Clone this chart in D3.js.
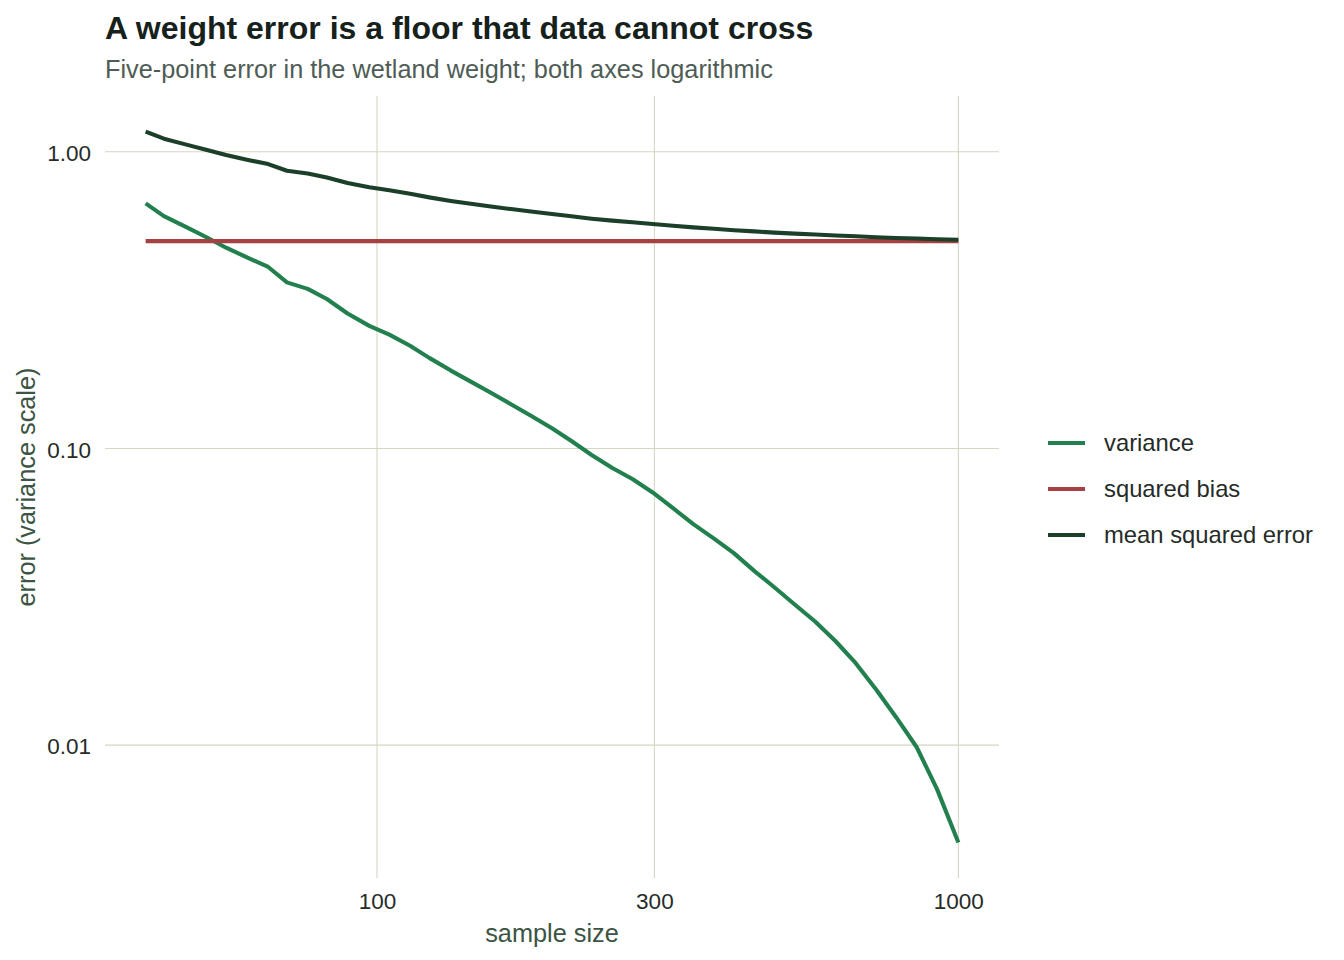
<!DOCTYPE html>
<html>
<head>
<meta charset="utf-8">
<title>A weight error is a floor that data cannot cross</title>
<script src="https://cdn.jsdelivr.net/npm/d3@7"></script>
<style>
  body { margin: 0; background: #fff; }
  svg text { font-family: "Liberation Sans", Arial, sans-serif; }
</style>
</head>
<body>
<svg id="chart" width="1344" height="960"></svg>
<script>
// sample sizes (x)
var sampleSize = [40, 43, 47, 51, 55, 60, 65, 70, 76, 82, 89, 97, 105, 114, 123, 134, 145, 157, 170, 184,
  200, 216, 234, 254, 275, 298, 323, 350, 380, 411, 446, 483, 523, 567, 615, 666, 722, 782, 848, 919, 1000]

// error components
var variance = [0.670, 0.607, 0.557, 0.514, 0.475, 0.439, 0.409, 0.363, 0.345, 0.319, 0.285, 0.259, 0.242, 0.222,
  0.202, 0.183, 0.168, 0.154, 0.141, 0.129, 0.117, 0.106, 0.0951, 0.0859, 0.0789, 0.0711, 0.0629, 0.0556,
  0.0497, 0.0444, 0.0386, 0.0340, 0.0298, 0.0261, 0.0224, 0.0189, 0.0154, 0.0124, 0.00984, 0.00711, 0.00470]

var squaredBias = [0.5, 0.5, 0.5, 0.5, 0.5, 0.5, 0.5, 0.5, 0.5, 0.5, 0.5, 0.5, 0.5, 0.5, 0.5, 0.5, 0.5, 0.5, 0.5, 0.5,
  0.5, 0.5, 0.5, 0.5, 0.5, 0.5, 0.5, 0.5, 0.5, 0.5, 0.5, 0.5, 0.5, 0.5, 0.5, 0.5, 0.5, 0.5, 0.5, 0.5, 0.5]

var meanSquaredError = [1.170, 1.107, 1.057, 1.014, 0.975, 0.939, 0.909, 0.863, 0.845, 0.819, 0.785, 0.759, 0.742,
  0.722, 0.702, 0.683, 0.668, 0.654, 0.641, 0.629, 0.617, 0.606, 0.595, 0.586, 0.579, 0.571, 0.563, 0.556,
  0.550, 0.544, 0.539, 0.534, 0.530, 0.526, 0.522, 0.519, 0.515, 0.512, 0.510, 0.507, 0.505]

var seriesNames = ['variance', 'squared bias', 'mean squared error']
var seriesColors = ['#22804f', '#a54142', '#1b3f29']
var xTicks = [100, 300, 1000]
var yTicks = [0.01, 0.1, 1]

var series = [variance, squaredBias, meanSquaredError].map(function(vals, i){
  return { name: seriesNames[i], color: seriesColors[i],
    points: vals.map(function(v, j){ return { n: sampleSize[j], v: v } }) }
})

var svg = d3.select('#chart')
var panel = { left: 105, right: 999, top: 96, bottom: 878 }

// log scales with ggplot-like 5% padding
function padLog(ext){
  var a = Math.log10(ext[0]), b = Math.log10(ext[1]), p = (b - a) * 0.05
  return [Math.pow(10, a - p), Math.pow(10, b + p)]
}
var allVals = variance.concat(squaredBias, meanSquaredError)
var x = d3.scaleLog().domain(padLog(d3.extent(sampleSize))).range([panel.left, panel.right])
var y = d3.scaleLog().domain(padLog(d3.extent(allVals))).range([panel.bottom, panel.top])

var grid = '#d6d6c2'

// gridlines
svg.append('g').selectAll('line').data(xTicks).enter().append('line')
  .attr('x1', function(d){ return x(d) }).attr('x2', function(d){ return x(d) })
  .attr('y1', panel.top).attr('y2', panel.bottom)
  .attr('stroke', grid).attr('stroke-width', 1.1)
svg.append('g').selectAll('line').data(yTicks).enter().append('line')
  .attr('x1', panel.left).attr('x2', panel.right)
  .attr('y1', function(d){ return y(d) }).attr('y2', function(d){ return y(d) })
  .attr('stroke', grid).attr('stroke-width', 1.1)

// axes (labels only)
var xAxis = svg.append('g').attr('transform', 'translate(0,' + (panel.bottom + 15) + ')')
  .call(d3.axisBottom(x).tickValues(xTicks).tickFormat(d3.format('d')).tickSize(0))
var yAxis = svg.append('g').attr('transform', 'translate(' + (panel.left - 14) + ',0)')
  .call(d3.axisLeft(y).tickValues(yTicks).tickFormat(d3.format('.2f')).tickSize(0))
;[xAxis, yAxis].forEach(function(a){
  a.select('.domain').remove()
  a.selectAll('text').attr('fill', '#262b28').attr('font-size', 22.5)
    .attr('font-family', '"Liberation Sans", Arial, sans-serif')
})
xAxis.selectAll('text').attr('y', 0).attr('dy', '0.71em')
yAxis.selectAll('text').attr('x', 0).attr('dy', '0.38em')

// lines
var line = d3.line().x(function(d){ return x(d.n) }).y(function(d){ return y(d.v) })
svg.append('g').selectAll('path').data(series).enter().append('path')
  .attr('d', function(d){ return line(d.points) })
  .attr('fill', 'none')
  .attr('stroke', function(d){ return d.color })
  .attr('stroke-width', 4.1)
  .attr('stroke-linejoin', 'round')

// titles
svg.append('text').attr('x', 105).attr('y', 39)
  .attr('font-size', 32).attr('font-weight', 'bold').attr('fill', '#17211c')
  .text('A weight error is a floor that data cannot cross')
svg.append('text').attr('x', 105).attr('y', 78)
  .attr('font-size', 25.3).attr('fill', '#4e5c55')
  .text('Five-point error in the wetland weight; both axes logarithmic')

svg.append('text').attr('x', (panel.left + panel.right) / 2).attr('y', 942)
  .attr('text-anchor', 'middle').attr('font-size', 25.3).attr('fill', '#3b5443')
  .text('sample size')
svg.append('text')
  .attr('transform', 'translate(35,' + ((panel.top + panel.bottom) / 2) + ') rotate(-90)')
  .attr('text-anchor', 'middle').attr('font-size', 25.3).attr('fill', '#3b5443')
  .text('error (variance scale)')

// legend
var legend = svg.append('g').attr('transform', 'translate(1048,443)')
var item = legend.selectAll('g').data(series).enter().append('g')
  .attr('transform', function(d, i){ return 'translate(0,' + (i * 46) + ')' })
item.append('line').attr('x1', 0).attr('x2', 37).attr('y1', 0).attr('y2', 0)
  .attr('stroke', function(d){ return d.color }).attr('stroke-width', 4.1)
item.append('text').attr('x', 56).attr('y', 0).attr('dy', '0.35em')
  .attr('font-size', 23.8).attr('fill', '#262b28')
  .text(function(d){ return d.name })
</script>
</body>
</html>
